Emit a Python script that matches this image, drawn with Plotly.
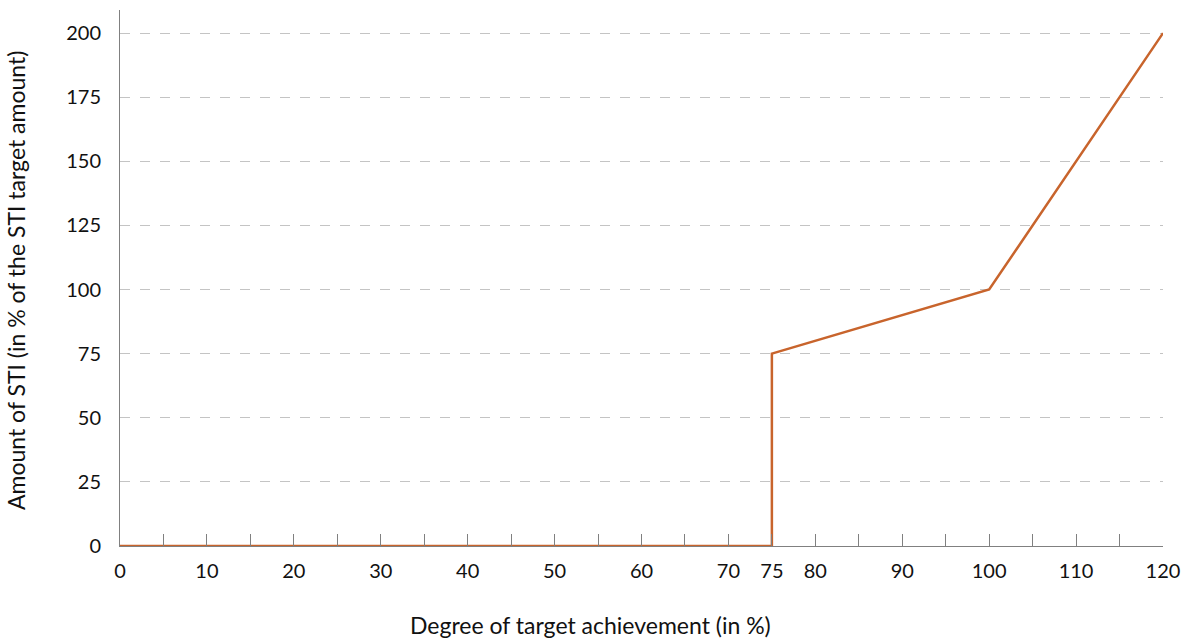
import plotly.graph_objects as go

# Data
achievement = [0, 75, 75, 100, 120]
sti_amount = [0, 0, 75, 100, 200]

x_tick_vals = list(range(0, 125, 5))
x_label_vals = [0, 10, 20, 30, 40, 50, 60, 70, 75, 80, 90, 100, 110, 120]
x_tick_text = [str(v) if v in x_label_vals else "" for v in x_tick_vals]
y_tick_vals = [0, 25, 50, 75, 100, 125, 150, 175, 200]

x_title = "Degree of target achievement (in %)"
y_title = "Amount of STI (in % of the STI target amount)"

FONT = "Lato, Open Sans, sans-serif"
TEXT_COLOR = "#111111"
LINE_COLOR = "#C8642C"
AXIS_COLOR = "#808080"
GRID_COLOR = "#C4C4C4"

fig = go.Figure()
fig.add_trace(go.Scatter(
    x=achievement, y=sti_amount, mode="lines",
    line=dict(color=LINE_COLOR, width=2.5),
    cliponaxis=False, hoverinfo="skip", showlegend=False,
))

fig.update_layout(
    width=1191, height=642,
    margin=dict(l=120, r=28, t=10, b=96),
    paper_bgcolor="white", plot_bgcolor="white",
    font=dict(family=FONT, size=20, color=TEXT_COLOR),
    showlegend=False,
    annotations=[
        dict(text=x_title, xref="paper", yref="paper",
             x=(590 - 120) / 1043, y=(546 - 625) / 536,
             xanchor="center", yanchor="middle", showarrow=False,
             font=dict(family=FONT, size=23, color=TEXT_COLOR)),
        dict(text=y_title, xref="paper", yref="paper",
             x=(16 - 120) / 1043, y=(546 - 281) / 536, textangle=-90,
             xanchor="center", yanchor="middle", showarrow=False,
             font=dict(family=FONT, size=23, color=TEXT_COLOR)),
    ],
)

fig.update_xaxes(
    range=[0, 120], tickmode="array", tickvals=x_tick_vals, ticktext=x_tick_text,
    ticks="inside", ticklen=12, tickwidth=1, tickcolor=AXIS_COLOR,
    showline=True, linecolor=AXIS_COLOR, linewidth=1,
    showgrid=False, zeroline=False, ticklabelstandoff=7,
    fixedrange=True,
)
fig.update_yaxes(
    range=[0, 209], tickmode="array", tickvals=y_tick_vals,
    ticks="", showline=True, linecolor=AXIS_COLOR, linewidth=1,
    showgrid=True, gridcolor=GRID_COLOR, gridwidth=1.2, griddash="10px,10px",
    zeroline=False, ticklabelstandoff=14, fixedrange=True,
)

fig.write_html(
    "out.html",
    config={"displayModeBar": False},
    post_script="document.body.style.margin='0px';",
)
